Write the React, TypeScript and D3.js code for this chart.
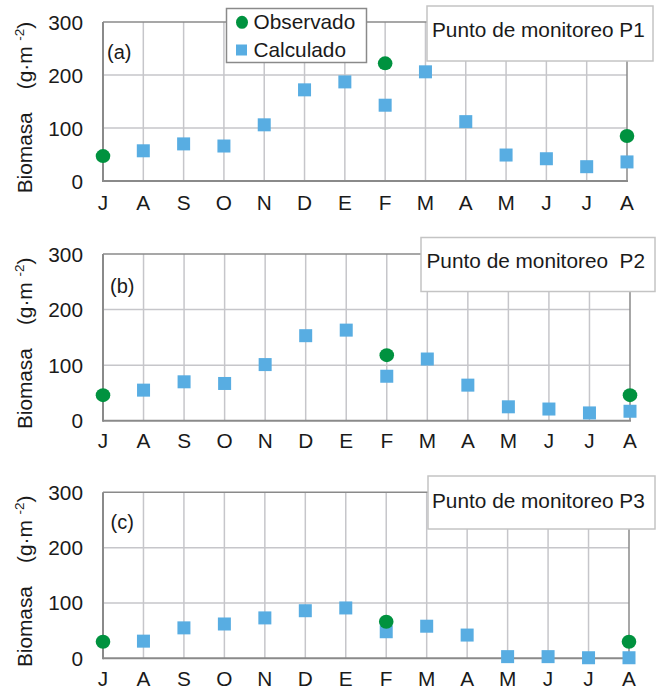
import React from "react";
import * as d3 from "d3";

const months = ["J", "A", "S", "O", "N", "D", "E", "F", "M", "A", "M", "J", "J", "A"];
const yTicks = [0, 100, 200, 300];

// Observed values: [monthIndex, value]
const obsP1: [number, number][] = [[0, 47], [7, 222], [13, 85]];
const obsP2: [number, number][] = [[0, 46], [7, 118], [13, 46]];
const obsP3: [number, number][] = [[0, 30], [7, 66], [13, 30]];

// Calculated values starting at month index 1 (A) .. 13 (A)
const calcP1 = [57, 70, 66, 106, 172, 187, 143, 206, 112, 49, 42, 27, 36];
const calcP2 = [55, 70, 67, 101, 153, 163, 80, 111, 64, 25, 21, 14, 17];
const calcP3 = [31, 55, 62, 73, 86, 91, 48, 58, 42, 3, 3, 1, 1];

const panelLabels = ["(a)", "(b)", "(c)"];
const panelTitles = ["Punto de monitoreo P1", "Punto de monitoreo\u00a0 P2", "Punto de monitoreo P3"];

const GREEN = "#00923f";
const BLUE = "#58ade2";
const FONT = "'Liberation Sans', Arial, sans-serif";
const TXT = "#1a1a1a";
const FS = 20.8;

interface PanelLayout {
  top: number;
  bottom: number;
  right: number;
  box: [number, number, number, number];
  titleX: number;
  titleY: number;
  labelX: number;
  labelY: number;
  xLabY: number;
}

const layouts: PanelLayout[] = [
  { top: 22, bottom: 181, right: 627, box: [427, 6, 226, 55], titleX: 432, titleY: 37, labelX: 107, labelY: 59, xLabY: 210 },
  { top: 254, bottom: 420.7, right: 630, box: [421, 237.5, 234, 54], titleX: 426.5, titleY: 268, labelX: 110, labelY: 293, xLabY: 448 },
  { top: 492.3, bottom: 658.3, right: 629, box: [428, 476, 227, 53], titleX: 432, titleY: 508, labelX: 110.5, labelY: 529, xLabY: 686 },
];

const LEFT = 103;

function Panel({ idx, obs, calc }: { idx: number; obs: [number, number][]; calc: number[] }) {
  const L = layouts[idx];
  const x = d3.scaleLinear().domain([0, months.length - 1]).range([LEFT, L.right]);
  const y = d3.scaleLinear().domain([0, 300]).range([L.bottom, L.top]);
  const cy = (L.top + L.bottom) / 2;
  return (
    <g>
      {months.map((m, i) =>
        i > 0 && i < months.length - 1 ? (
          <line key={"vg" + i} x1={x(i)} x2={x(i)} y1={L.top} y2={L.bottom} stroke="#c6c6ca" strokeWidth={1.5} />
        ) : null
      )}
      {yTicks.map((t) =>
        t > 0 && t < 300 ? (
          <line key={"hg" + t} x1={LEFT} x2={L.right} y1={y(t)} y2={y(t)} stroke="#c6c6ca" strokeWidth={1.5} />
        ) : null
      )}
      <line x1={LEFT} x2={L.right} y1={L.top} y2={L.top} stroke="#8a8a8a" strokeWidth={1.5} />
      <line x1={L.right} x2={L.right} y1={L.top} y2={L.bottom} stroke="#8a8a8a" strokeWidth={1.5} />
      <line x1={LEFT} x2={LEFT} y1={L.top} y2={L.bottom + 1} stroke="#8a8a8a" strokeWidth={2} />
      <line x1={LEFT} x2={L.right + 1} y1={L.bottom} y2={L.bottom} stroke="#8a8a8a" strokeWidth={2} />
      {yTicks.map((t) => (
        <text key={"yt" + t} x={83} y={y(t) + 7.5} textAnchor="end" fontSize={FS} fontFamily={FONT} fill={TXT}>
          {t}
        </text>
      ))}
      {months.map((m, i) => (
        <text key={"xt" + i} x={x(i)} y={L.xLabY} textAnchor="middle" fontSize={FS} fontFamily={FONT} fill={TXT}>
          {m}
        </text>
      ))}
      <text
        transform={`translate(32,${cy + 6}) rotate(-90)`}
        textAnchor="middle"
        fontSize={FS}
        fontFamily={FONT}
        fill={TXT}
        xmlSpace="preserve"
      >
        {"Biomasa    (g·m "}
        <tspan fontSize={13.5} dy={-8}>{"-2"}</tspan>
        <tspan dy={8}>{")"}</tspan>
      </text>
      <text x={L.labelX} y={L.labelY} fontSize={20} fontFamily={FONT} fill={TXT}>
        {panelLabels[idx]}
      </text>
      {calc.map((v, i) => (
        <rect key={"c" + i} x={x(i + 1) - 6.5} y={y(v) - 6.5} width={13} height={13} fill={BLUE} />
      ))}
      {obs.map(([i, v]) => (
        <ellipse key={"o" + i} cx={x(i)} cy={y(v)} rx={7.3} ry={7} fill={GREEN} />
      ))}
      <rect x={L.box[0]} y={L.box[1]} width={L.box[2]} height={L.box[3]} fill="#fff" stroke="#c4c4c4" strokeWidth={1.5} />
      <text x={L.titleX} y={L.titleY} fontSize={FS} fontFamily={FONT} fill={TXT} xmlSpace="preserve">
        {panelTitles[idx]}
      </text>
    </g>
  );
}

export default function App() {
  return (
    <svg width={660} height={689} style={{ position: "absolute", left: 0, top: 0, background: "#fff" }}>
      <rect width={660} height={689} fill="#fff" />
      <Panel idx={0} obs={obsP1} calc={calcP1} />
      <Panel idx={1} obs={obsP2} calc={calcP2} />
      <Panel idx={2} obs={obsP3} calc={calcP3} />
      <g>
        <rect x={226.5} y={8.5} width={140} height={54} fill="#fff" stroke="#8a8a8a" strokeWidth={1.5} />
        <ellipse cx={242} cy={22.3} rx={6} ry={6.5} fill={GREEN} />
        <text x={253.5} y={29} fontSize={FS} fontFamily={FONT} fill={TXT}>Observado</text>
        <rect x={236} y={44.5} width={11} height={11} fill={BLUE} />
        <text x={253.5} y={56.5} fontSize={FS} fontFamily={FONT} fill={TXT}>Calculado</text>
      </g>
    </svg>
  );
}
